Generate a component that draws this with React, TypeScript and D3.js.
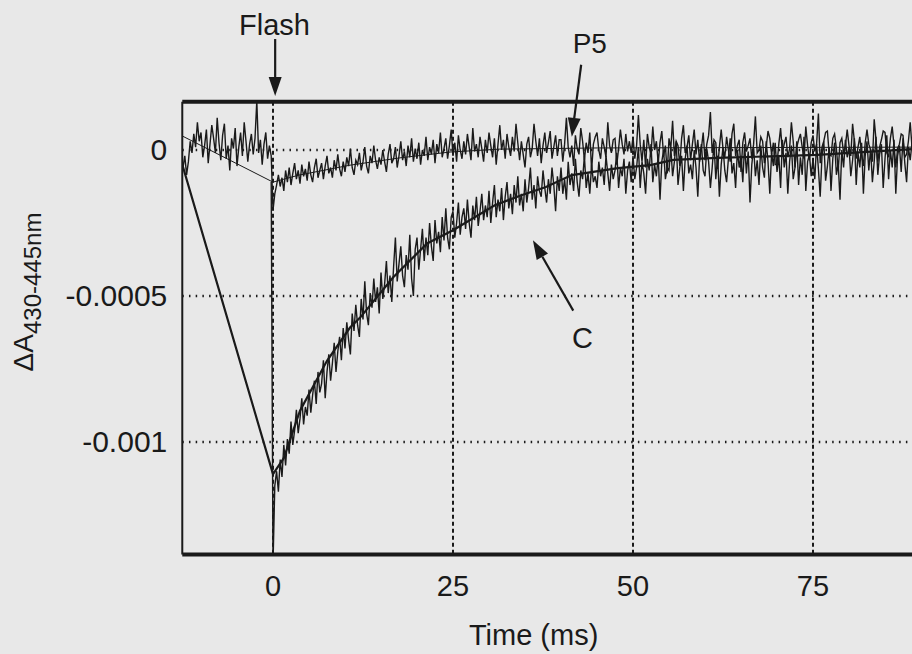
import * as d3 from "d3";

// time axis (ms) and absorbance axis
const xTicks = [0, 25, 50, 75];
const yTicks = [0, -0.0005, -0.001];
const yTickLabels = ["0", "-0.0005", "-0.001"];

// raw traces, sampled every 0.25 ms, values in units of 1e-6 absorbance
const T_STEP = 0.25;
const UNIT = 1e-6;

// P5, from -12.5 ms
const p5Start = -12.5;
const p5Raw = [
  -60, -20, -85, -40, 30, -10, 55, 10, 95, 30, 60, -25, 15, 70, -45, 20, 85, 40, -10, 110,
  25, -35, 50, 90, -30, 15, -70, 40, 5, 75, -55, 10, 60, -20, 95, 30, -40, 20, 55, -15,
  40, 168, -10, 35, -50, 20, 60, -30, 15, -20,
  -206, -150, -120, -85, -125, -95, -140, -70, -110, -60, -120, -80, -45, -100, -70, -115, -50, -90, -65, -105,
  -40, -85, -110, -60, -30, -95, -70, -45, -100, -55, -20, -80, -60, -95, -35, -70, -15, -65, -90, -40,
  -75, -25, -55, 5, -60, -85, -35, -50, -10, -70, -40, 10, -55, -80, -20, -45, 15, -35, -65, -25,
  -50, 0, -40, -75, -15, 20, -45, -30, 10, -60, -20, 30, -35, -5, -55, 15, -25, 40, -40, 5,
  -30, 25, -50, 0, -20, 45, -35, 10, -15, 35, -45, 20, -10, 60, -25, 5, 40, -30, 15, 70,
  -20, 25, -40, 50, 0, -30, 30, -15, 55, 10, -35, 75, -5, 20, -25, 45, 5, -40, 35, -10,
  60, 15, -25, 40, -50, 20, 85, 0, 35, -30, 55, 10, -20, 45, -5, 90, 25, -35, 30, -15,
  -60, 20, 45, -25, 5, 90, 30, -20, 40, -45, 15, 60, -10, 25, 65, -30, 10, 50, -20, 35,
  35, -40, 20, 110, 10, -25, 15, -55, 50, 5, -15, 75, 30, -35, 25, -10, 60, -70, 20, 45,
  60, 0, -30, 40, 10, -25, 95, 15, -10, 35, 40, -50, 5, 70, 20, -15, 55, -5, 30, -10,
  45, -30, 15, 120, 20, -40, 35, -60, 55, 10, -15, 80, 0, 30, -45, 25, 65, -20, 15, -80,
  40, 5, 100, -20, 30, 15, -55, 40, 85, -10, 10, 50, -35, 20, 70, -15, 35, -40, 5, 60,
  -35, 20, 50, 130, -10, 35, 25, -65, 10, 70, 5, -25, 45, 0, -40, 55, 90, -20, 15, 35,
  -75, 25, 60, -5, 15, 40, -30, 20, 115, -10, 0, 45, 30, -45, 10, 65, 40, -15, 25, -50,
  -50, 20, 75, -10, 20, 45, -25, 5, 95, 30, -60, 10, 35, 55, 10, -30, 80, 15, -35, 25,
  50, -5, 20, 125, -45, 10, 30, 60, 65, -15, -20, 40, 55, 5, -70, 25, 40, -10, 15, 70,
  15, -20, 90, 30, -30, 10, 45, -15, -55, 25, 70, 20, 0, -40, 105, 35, -40, 10, 35, 65,
  60, -10, -25, 40, 80, 15, -60, 5, 20, 55, 50, -25, -15, 30, 95, 10, 5,
];

// C, from -0.25 ms
const cStart = -0.25;
const cRaw = [
  -110, -1420,
  -1150, -1100, -1170, -1060, -1120, -1010, -1080, -990, -1040, -930, -1010, -960, -890, -970, -920, -850, -940, -880, -910,
  -820, -900, -840, -790, -870, -760, -830, -800, -720, -850, -760, -700, -790, -730, -660, -760, -690, -640, -720, -610,
  -680, -590, -650, -700, -560, -620, -530, -600, -640, -510, -580, -450, -560, -600, -490, -540, -440, -520, -470, -560,
  -420, -510, -460, -380, -490, -430, -520, -400, -300, -450, -390, -330, -430, -470, -360, -410, -290, -440, -500, -340,
  -300, -410, -340, -270, -380, -300, -360, -250, -330, -380, -240, -320, -280, -350, -230, -310, -200, -300, -340, -230,
  -210, -300, -250, -180, -290, -230, -200, -270, -170, -250, -300, -190, -240, -160, -260, -210, -150, -240, -190, -230,
  -140, -250, -180, -120, -230, -170, -210, -130, -240, -160, -110, -200, -150, -220, -120, -180, -90, -190, -150, -210,
  -100, -180, -130, -60, -170, -120, -200, -90, -140, -160, -70, -130, -180, -100, -150, -60, -120, -210, -90, -140,
  -60, -150, -100, -170, -40, -120, -80, -140, -30, -110, -160, -70, -100, -20, -130, -80, -150, -50, -110, -90,
  -130, -40, -90, -60, -120, -20, -80, -140, -50, -100, -70, -10, -130, -60, -90, -30, -150, -70, -40, -110,
  -20, -100, -60, 10, -130, -40, -80, -150, -30, -70, 20, -110, -50, -90, -20, -170, -40, 0, -100, -60,
  -70, 10, -90, -40, 30, -120, -60, -20, -140, -30, 15, -80, -50, -100, 0, -60, -160, -25, 20, -70,
  -90, 5, -40, -130, -60, 25, -100, -20, -160, -50, 10, -70, -110, -30, 40, -80, -45, -130, 0, -60,
  -20, -110, 20, -80, -5, -180, -50, 10, -90, -35, -120, 15, -60, -95, 30, -40, -150, -10, -55, 25,
  -75, -20, -130, 35, -60, -10, -150, -40, 15, -100, -60, 30, -120, -25, -85, 45, -140, -40, -15, -90,
  -30, -100, 20, -65, -160, -20, 30, -105, -55, 10, -140, -30, 25, -85, -45, -170, 0, -60, 35, -25,
  10, -90, -35, 40, -120, -10, -60, 25, -150, -20, 30, -70, 5, -110, -40, 45, -85, -15, 20, -130,
  -30, 50, -100, 0, -60, 35, -150, -20, 15, -75, 40, -45, -110, 10, -35, 25, -20,
];

// fitted curves (ms, 1e-6 absorbance)
const p5FitT = [-12.6, 0, 3.6, 10.7, 17.6, 24.6, 31.5, 45, 92];
const p5FitV = [48, -110, -86, -52, -27, -7, 3, 7, 10];
const cFitT = [-12.6, 0, 1.5, 3.75, 7.5, 10.7, 12.1, 16.7, 21.4, 25, 30.8, 34.5, 37.9, 41.5, 47.9, 52.4, 55.6, 61.7, 75.6, 92];
const cFitV = [-50, -1110, -1055, -893, -722, -608, -574, -436, -320, -275, -189, -155, -127, -86, -62, -52, -34, -27, -17, 8];

const xMin = -12.6, xMax = 92;
const yMax = 0.000165, yMin = -0.001385;

const FONT = "'Liberation Sans', Arial, sans-serif";
const INK = "#1a1a1a";

function Arrow({ x1, y1, x2, y2 }: { x1: number; y1: number; x2: number; y2: number }) {
  const a = Math.atan2(y2 - y1, x2 - x1);
  const len = 19, hw = 6.5;
  const bx = x2 - len * Math.cos(a), by = y2 - len * Math.sin(a);
  const px = -Math.sin(a) * hw, py = Math.cos(a) * hw;
  return (
    <g>
      <line x1={x1} y1={y1} x2={bx} y2={by} stroke={INK} strokeWidth={2.2} />
      <polygon points={`${x2},${y2} ${bx + px},${by + py} ${bx - px},${by - py}`} fill={INK} />
    </g>
  );
}

export default function App() {
  const x = d3.scaleLinear().domain([0, 75]).range([273, 813]);
  const y = d3.scaleLinear().domain([0, -0.001]).range([150, 442]);

  const left = x(xMin), right = x(xMax), top = y(yMax), bottom = y(yMin);

  const line = d3.line<[number, number]>().x(d => x(d[0])).y(d => y(d[1]));
  const p5Pts: [number, number][] = p5Raw.map((v, i) => [p5Start + i * T_STEP, v * UNIT]);
  const cPts: [number, number][] = cRaw.map((v, i) => [cStart + i * T_STEP, v * UNIT]);
  const p5Fit: [number, number][] = p5FitT.map((t, i) => [t, p5FitV[i] * UNIT]);
  const cFit: [number, number][] = cFitT.map((t, i) => [t, cFitV[i] * UNIT]);

  return (
    <svg width={912} height={654} style={{ position: "fixed", left: 0, top: 0 }} fontFamily={FONT}>
      <rect width={912} height={654} fill="#e8e8e8" />
      <defs>
        <clipPath id="plot">
          <rect x={left} y={top} width={right - left} height={bottom - top} />
        </clipPath>
      </defs>

      {/* grid */}
      {xTicks.map(t => (
        <line key={"gx" + t} x1={x(t)} x2={x(t)} y1={top} y2={bottom} stroke={INK} strokeWidth={2} strokeDasharray="4,3" />
      ))}
      {yTicks.map(v => (
        <line key={"gy" + v} x1={left} x2={right} y1={y(v)} y2={y(v)} stroke={INK} strokeWidth={2.5} strokeDasharray="1.5,5.2" />
      ))}

      {/* traces */}
      <g clipPath="url(#plot)" fill="none">
        <path d={line(p5Pts) ?? ""} stroke={INK} strokeWidth={1.4} />
        <path d={line(cPts) ?? ""} stroke={INK} strokeWidth={1.4} />
        <path d={line(p5Fit) ?? ""} stroke={INK} strokeWidth={1} />
        <path d={line(cFit) ?? ""} stroke={INK} strokeWidth={2.2} />
      </g>

      {/* frame */}
      <line x1={left} x2={left} y1={top} y2={bottom} stroke={INK} strokeWidth={2} />
      <line x1={left} x2={right} y1={top} y2={top} stroke={INK} strokeWidth={4} />
      <line x1={left} x2={right} y1={bottom} y2={bottom} stroke={INK} strokeWidth={4} />

      {/* tick labels */}
      {xTicks.map(t => (
        <text key={"tx" + t} x={x(t)} y={bottom + 42} textAnchor="middle" fontSize={29} fill={INK}>{t}</text>
      ))}
      {yTicks.map((v, i) => (
        <text key={"ty" + v} x={left - 15} y={y(v) + 10} textAnchor="end" fontSize={30} fill={INK}>{yTickLabels[i]}</text>
      ))}

      {/* axis titles */}
      <text x={x(36.2)} y={645} textAnchor="middle" fontSize={29} fill={INK}>Time (ms)</text>
      <text transform="translate(33,292) rotate(-90)" textAnchor="middle" fontSize={28} fill={INK}>
        ΔA<tspan fontSize={24} dy={8}>430-445nm</tspan>
      </text>

      {/* annotations */}
      <text x={x(0.2)} y={y(0.000395)} textAnchor="middle" fontSize={29} fill={INK}>Flash</text>
      <Arrow x1={x(0.3)} y1={y(0.00038)} x2={x(0.3)} y2={y(0.000185)} />
      <text x={x(44)} y={y(0.000333)} textAnchor="middle" fontSize={28} fill={INK}>P5</text>
      <Arrow x1={x(42.8)} y1={y(0.000292)} x2={x(41.5)} y2={y(0.000045)} />
      <text x={x(43)} y={y(-0.000677)} textAnchor="middle" fontSize={29} fill={INK}>C</text>
      <Arrow x1={x(41.7)} y1={y(-0.00055)} x2={x(36.1)} y2={y(-0.000309)} />
    </svg>
  );
}
